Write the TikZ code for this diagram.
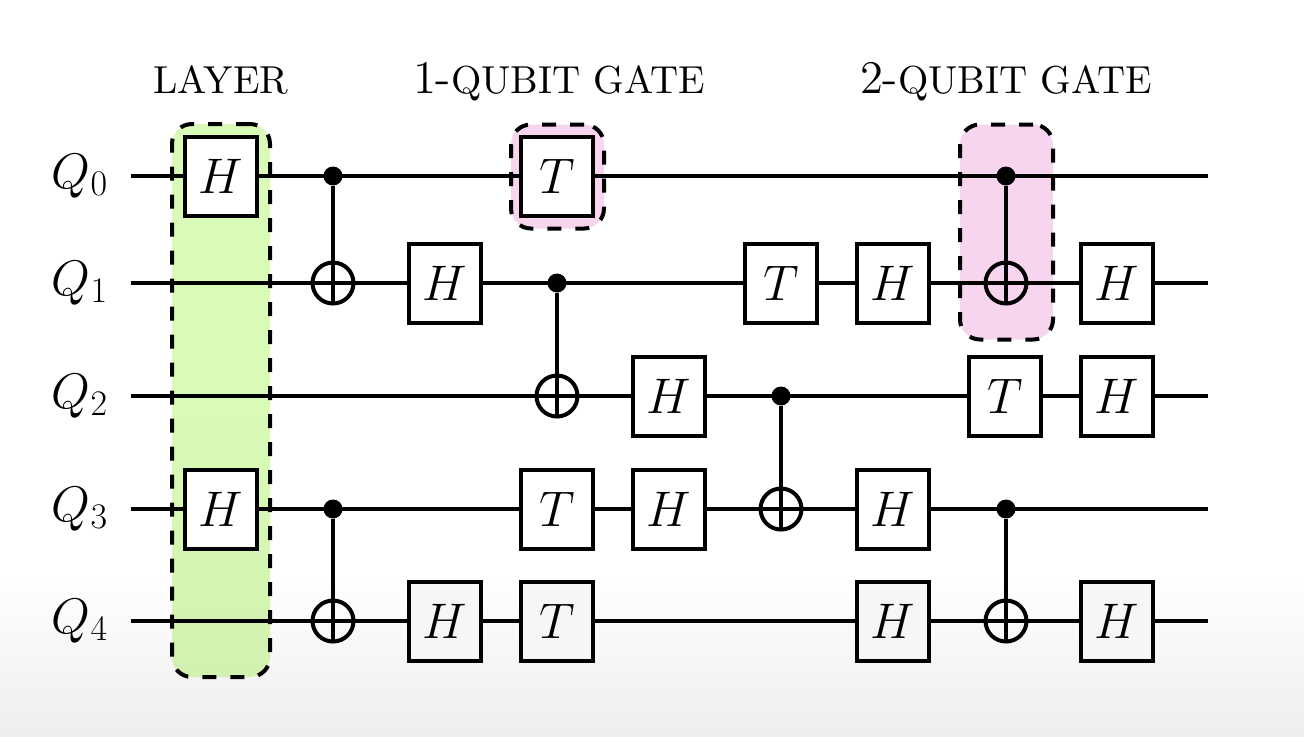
\documentclass[tikz,border=0pt]{standalone}
\usepackage{fix-cm}
\usepackage{xcolor}
\usepackage{tikz}
\usetikzlibrary{
  shapes.geometric,
  positioning
}
\DeclareMathSizes{25}{25}{18}{14}
\definecolor{LayerGreen}{RGB}{218, 251, 184}
\definecolor{LayerGreenLow}{RGB}{210, 241, 176}
\definecolor{GatePink}{RGB}{248, 213, 238}
\definecolor{FadeGray}{RGB}{238, 238, 238}
\definecolor{GateLow}{RGB}{246, 246, 246}
\tikzset{
    wire/.style={line width=2pt},
    ctrlline/.style={line width=1.8pt},
    gatebox/.style={rectangle, draw=black, fill=white, line width=2pt, minimum width=36pt, minimum height=39.5pt, inner sep=0pt, outer sep=0pt, font=\fontsize{25}{30}\selectfont},
    ctrldot/.style={circle, fill=black, minimum size=9.5pt, inner sep=0pt, outer sep=0pt},
    target/.style={circle, draw=black, line width=2pt, minimum size=20.5pt, inner sep=0pt, outer sep=0pt},
    hilite/.style={rectangle, draw=black, dashed, dash pattern=on 7pt off 7pt, line width=2pt, rounded corners=10pt, inner sep=0pt, outer sep=0pt},
    qlabel/.style={font=\fontsize{25}{30}\selectfont, inner sep=0pt},
    headlabel/.style={font=\fontsize{10}{12}\selectfont, inner sep=0pt, anchor=base, scale=1.95, transform shape}
}
\begin{document}
\begin{tikzpicture}[x=0.5pt, y=-0.5pt]
            \useasboundingbox (0,0) rectangle (1304,736);
            \fill[white] (0,0) rectangle (1304,736);
            \shade[top color=white, bottom color=FadeGray] (0,575) rectangle (1304,736);

            % highlighted regions
            \node[hilite, top color=LayerGreen, bottom color=LayerGreenLow, middle color=LayerGreen, minimum width=49pt, minimum height=276.5pt] (layerbox) at (221,400.5) {};
            \node[hilite, fill=GatePink, minimum width=46.5pt, minimum height=52pt] (onebox) at (557.5,176.5) {};
            \node[hilite, fill=GatePink, minimum width=46.5pt, minimum height=107.5pt] (twobox) at (1006.5,232) {};

            % headings
            \node[headlabel] (layertext) at (221,93) {LAYER};
            \node[headlabel] (onetext) at (559,93) {{\fontsize{12}{14}\selectfont 1-}QUBIT GATE};
            \node[headlabel] (twotext) at (1006,93) {{\fontsize{12}{14}\selectfont 2-}QUBIT GATE};

            % qubit labels
            \node[qlabel] (q0) at (80,176) {$Q_0$};
            \node[qlabel] (q1) at (80,283) {$Q_1$};
            \node[qlabel] (q2) at (80,396) {$Q_2$};
            \node[qlabel] (q3) at (80,509) {$Q_3$};
            \node[qlabel] (q4) at (80,621) {$Q_4$};

            % wires
            \coordinate (a0) at (131,176); \coordinate (b0) at (1208,176);
            \coordinate (a1) at (131,283); \coordinate (b1) at (1208,283);
            \coordinate (a2) at (131,396); \coordinate (b2) at (1208,396);
            \coordinate (a3) at (131,509); \coordinate (b3) at (1208,509);
            \coordinate (a4) at (131,621); \coordinate (b4) at (1208,621);
            \draw[wire] (a0) -- (b0);
            \draw[wire] (a1) -- (b1);
            \draw[wire] (a2) -- (b2);
            \draw[wire] (a3) -- (b3);
            \draw[wire] (a4) -- (b4);

            % single qubit gates
            \node[gatebox] (h0a) at (221,176) {$H$};
            \node[gatebox] (t0a) at (557,176) {$T$};
            \node[gatebox] (h1a) at (445,283) {$H$};
            \node[gatebox] (t1a) at (781,283) {$T$};
            \node[gatebox] (h1b) at (893,283) {$H$};
            \node[gatebox] (h1c) at (1117,283) {$H$};
            \node[gatebox] (h2a) at (669,396) {$H$};
            \node[gatebox] (t2a) at (1005,396) {$T$};
            \node[gatebox] (h2b) at (1117,396) {$H$};
            \node[gatebox] (h3a) at (221,509) {$H$};
            \node[gatebox] (t3a) at (557,509) {$T$};
            \node[gatebox] (h3b) at (669,509) {$H$};
            \node[gatebox] (h3c) at (893,509) {$H$};
            \node[gatebox, fill=GateLow] (h4a) at (445,621) {$H$};
            \node[gatebox, fill=GateLow] (t4a) at (557,621) {$T$};
            \node[gatebox, fill=GateLow] (h4b) at (893,621) {$H$};
            \node[gatebox, fill=GateLow] (h4c) at (1117,621) {$H$};

            % controlled gates
            \node[ctrldot] (c1) at (333,176) {};
            \node[target] (x1) at (333,283) {};
            \draw[ctrlline] (c1) -- (x1.south);
            \node[ctrldot] (c2) at (557,283) {};
            \node[target] (x2) at (557,396) {};
            \draw[ctrlline] (c2) -- (x2.south);
            \node[ctrldot] (c3) at (781,396) {};
            \node[target] (x3) at (781,509) {};
            \draw[ctrlline] (c3) -- (x3.south);
            \node[ctrldot] (c4) at (1006,176) {};
            \node[target] (x4) at (1006,283) {};
            \draw[ctrlline] (c4) -- (x4.south);
            \node[ctrldot] (c5) at (333,509) {};
            \node[target] (x5) at (333,621) {};
            \draw[ctrlline] (c5) -- (x5.south);
            \node[ctrldot] (c6) at (1006,509) {};
            \node[target] (x6) at (1006,621) {};
            \draw[ctrlline] (c6) -- (x6.south);
        \end{tikzpicture}
\end{document}
